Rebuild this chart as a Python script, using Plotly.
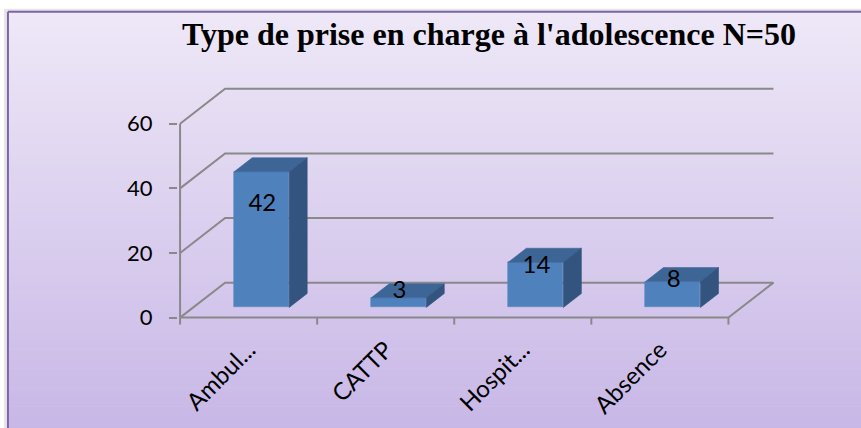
import plotly.graph_objects as go

# ---------------- data ----------------
categories = ["Ambul...", "CATTP", "Hospit...", "Absence"]
values = [42, 3, 14, 8]
y_ticks = [0, 20, 40, 60]
title_text = "Type de prise en charge à l'adolescence N=50"

# ---------------- geometry (pixel calibration) ----------------
W, H = 861, 428
X0_PX = 180.0      # pixel of x = -0.5 (front-left corner)
Y0_PX = 318.0      # pixel of value 0 on the front plane
PXX = 137.0        # pixels per category
PXY = 3.233        # pixels per value unit
XR = (-0.515, 3.92)
YR = (-2.6, 72.0)

l = X0_PX - (-0.5 - XR[0]) * PXX
pw = (XR[1] - XR[0]) * PXX
r = W - l - pw
b = H - Y0_PX - (0 - YR[0]) * PXY
ph = (YR[1] - YR[0]) * PXY
t = H - b - ph

DX = 45 / PXX          # depth shift in x units
DY = 35 / PXY          # depth shift in value units
F0, F1 = 0.29, 0.69    # bar depth span (fraction of depth)
BW = 55 / PXX          # bar width

def px_x(p):
    return (p - l) / pw

def px_y(p):
    return (H - b - p) / ph

n = len(categories)
xs = list(range(n))
grid_col = "#898989"

fig = go.Figure()

# ---------------- background gradient & frame ----------------
shapes = []
top_c = (0xEE, 0xE8, 0xF7)
bot_c = (0xC7, 0xB6, 0xE6)
FY0, FY1, FX0, FX1 = 12, 440, 8, 870
# shadow
shapes.append(dict(type="rect", xref="paper", yref="paper",
                   x0=px_x(FX0 - 4), x1=px_x(FX1), y0=px_y(FY0 - 3), y1=px_y(FY1),
                   fillcolor="#e6e6e6", line=dict(width=0), layer="below"))
N = 90
for k in range(N):
    f = k / (N - 1)
    c = tuple(int(round(top_c[j] + (bot_c[j] - top_c[j]) * f)) for j in range(3))
    ya = FY0 + (FY1 - FY0) * k / N
    yb = FY0 + (FY1 - FY0) * (k + 1) / N + 0.6
    shapes.append(dict(type="rect", xref="paper", yref="paper",
                       x0=px_x(FX0), x1=px_x(FX1), y0=px_y(ya), y1=px_y(yb),
                       fillcolor="rgb(%d,%d,%d)" % c, line=dict(width=0), layer="below"))
# frame border
shapes.append(dict(type="line", xref="paper", yref="paper",
                   x0=px_x(FX0), x1=px_x(FX0), y0=px_y(FY0), y1=px_y(FY1),
                   line=dict(color="#7f63a9", width=2), layer="below"))
shapes.append(dict(type="line", xref="paper", yref="paper",
                   x0=px_x(FX0), x1=px_x(FX1), y0=px_y(FY0), y1=px_y(FY0),
                   line=dict(color="#7f63a9", width=2), layer="below"))

# ---------------- 3D walls / gridlines (data coords) ----------------
xL, xRgt = -0.5, n - 0.5
for v in y_ticks:
    shapes.append(dict(type="path", xref="x", yref="y",
                       path="M %f %f L %f %f L %f %f" % (xL, v, xL + DX, v + DY, xRgt + DX, v + DY),
                       line=dict(color=grid_col, width=2), layer="below"))
# floor front edge and right edge
shapes.append(dict(type="path", xref="x", yref="y",
                   path="M %f %f L %f %f L %f %f" % (xL, 0, xRgt, 0, xRgt + DX, DY),
                   line=dict(color=grid_col, width=2), layer="below"))
# vertical value axis line
shapes.append(dict(type="line", xref="x", yref="y", x0=xL, x1=xL, y0=0, y1=max(y_ticks),
                   line=dict(color=grid_col, width=2), layer="below"))
# category boundary ticks
for k in range(n + 1):
    xb = -0.5 + k
    shapes.append(dict(type="line", xref="x", yref="y", x0=xb, x1=xb, y0=0, y1=-7 / PXY,
                       line=dict(color=grid_col, width=2), layer="below"))

# ---------------- bars ----------------
base0 = F0 * DY
bar_x = [i + F0 * DX for i in xs]
fig.add_trace(go.Bar(x=bar_x, y=values, base=base0, width=BW,
                     marker=dict(color="#4F81BD", line=dict(width=0.6, color="#5a8ac4")),
                     hoverinfo="skip", showlegend=False))

ddx = (F1 - F0) * DX
ddy = (F1 - F0) * DY
for i, v in zip(xs, values):
    xl = bar_x[i] - BW / 2
    xr = bar_x[i] + BW / 2
    yb = base0
    yt = base0 + v
    # top face
    fig.add_trace(go.Scatter(x=[xl, xr, xr + ddx, xl + ddx, xl],
                             y=[yt, yt, yt + ddy, yt + ddy, yt],
                             mode="lines", fill="toself", fillcolor="#3d6697",
                             line=dict(width=0.6, color="#3d6697"),
                             hoverinfo="skip", showlegend=False))
    # side face
    fig.add_trace(go.Scatter(x=[xr, xr, xr + ddx, xr + ddx, xr],
                             y=[yb, yt, yt + ddy, yb + ddy, yb],
                             mode="lines", fill="toself", fillcolor="#33547e",
                             line=dict(width=0.6, color="#33547e"),
                             hoverinfo="skip", showlegend=False))

# ---------------- data labels ----------------
lab_x = [i + 0.1 for i in xs]
lab_y = [5.9 + 0.69 * v for v in values]
fig.add_trace(go.Scatter(x=lab_x, y=lab_y, mode="text", text=[str(v) for v in values],
                         textfont=dict(family="Lato", size=24, color="black"),
                         textposition="middle center", hoverinfo="skip", showlegend=False,
                         cliponaxis=False))

# ---------------- title ----------------
fig.add_annotation(text="<b>" + title_text + "</b>", xref="paper", yref="paper",
                   x=px_x(489), y=px_y(34), xanchor="center", yanchor="middle",
                   showarrow=False,
                   font=dict(family="Liberation Serif", size=32, color="black"))

fig.update_layout(
    width=W, height=H,
    margin=dict(l=l, r=r, t=t, b=b, pad=0, autoexpand=False),
    paper_bgcolor="white", plot_bgcolor="rgba(0,0,0,0)",
    shapes=shapes, showlegend=False, bargap=0,
    xaxis=dict(range=list(XR), tickvals=xs, ticktext=categories, tickangle=-45,
               ticks="", showgrid=False, zeroline=False, showline=False,
               automargin=False,
               tickfont=dict(family="Lato", size=24, color="black"),
               ticklabelstandoff=4, fixedrange=True),
    yaxis=dict(range=list(YR), tickvals=y_ticks, ticks="outside", ticklen=8,
               tickwidth=2, tickcolor=grid_col, showgrid=False, zeroline=False,
               automargin=False,
               showline=False, tickfont=dict(family="Lato", size=22, color="black"),
               ticklabelstandoff=12, fixedrange=True),
)

fig.write_html("out.html", config={"displayModeBar": False},
               post_script="document.body.style.margin='0';document.body.style.overflow='hidden';")
